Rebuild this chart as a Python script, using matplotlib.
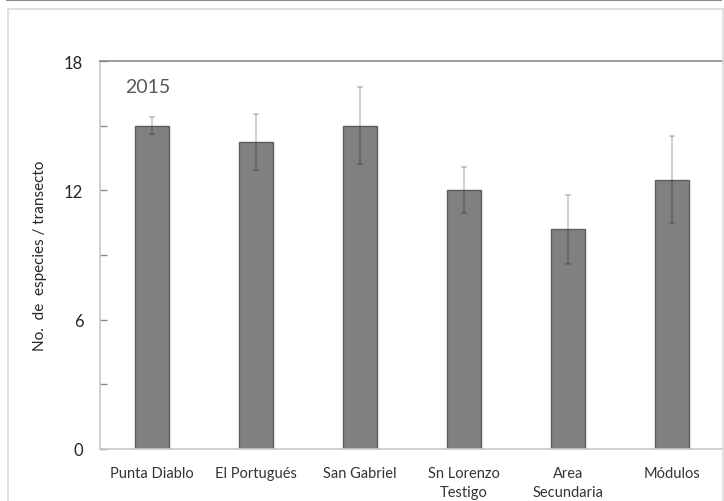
import matplotlib
matplotlib.use("Agg")
import matplotlib.pyplot as plt
from matplotlib.lines import Line2D
import numpy as np

# Species richness per transect, 2015
sites = ["Punta Diablo", "El Portugués", "San Gabriel", "Sn Lorenzo\nTestigo",
         "Area\nSecundaria", "Módulos"]
mean_species = [15.0, 14.25, 15.0, 12.0, 10.2, 12.5]
sd_species = [0.4, 1.3, 1.8, 1.07, 1.6, 2.03]
y_ticks = [0, 6, 12, 18]
y_minor = [3, 9, 15]
year_label = "2015"

plt.rcParams["font.family"] = ["Lato", "DejaVu Sans"]

W, H = 724, 502
fig = plt.figure(figsize=(W / 100, H / 100), dpi=100)
ax = fig.add_axes([100 / W, (H - 450) / H, 624 / W, 388 / H])

x = np.arange(len(sites))
ax.bar(x, mean_species, width=0.32, color="#808080", edgecolor="#5f5f5f",
       linewidth=1.0, zorder=2)
ax.errorbar(x, mean_species, yerr=sd_species, fmt="none", ecolor="black",
            alpha=0.22, elinewidth=1.2, capsize=2.0, capthick=1.2, zorder=3)

ax.set_xlim(-0.5, len(sites) - 0.5)
ax.set_ylim(0, 18)
ax.set_yticks(y_ticks)
ax.set_yticks(y_minor, minor=True)
ax.set_xticks(x)
ax.set_xticklabels(sites, fontsize=10.5, color="#333333", linespacing=1.45)
ax.tick_params(axis="x", length=0, pad=12)
ax.tick_params(axis="y", which="both", direction="in", length=5, width=1,
               color="#8c8c8c", labelsize=12, labelcolor="#262626", pad=12)

for side in ("left", "bottom"):
    ax.spines[side].set_color("#c8c8c8")
    ax.spines[side].set_linewidth(1.2)
ax.spines["top"].set_color("#8a8a8a")
ax.spines["top"].set_linewidth(1.2)
ax.spines["right"].set_visible(False)

ax.set_ylabel("No.  de  especies / transecto", fontsize=11, color="#262626")
ax.yaxis.set_label_coords(-53 / 624, 0.5)

ax.text(25 / 624, 0.935, year_label, transform=ax.transAxes, fontsize=14,
        color="#595959", ha="left", va="center")

# Frame lines around the figure
fig.add_artist(Line2D([7 / W, 721 / W], [1 - 1 / H, 1 - 1 / H],
                      transform=fig.transFigure, color="#8a8a8a", lw=1.5))
fig.add_artist(Line2D([8 / W, 8 / W, 723 / W], [0, 1 - 10 / H, 1 - 10 / H],
                      transform=fig.transFigure, color="#dadada", lw=1.2))
fig.add_artist(Line2D([723 / W, 723 / W], [0, 1 - 10 / H],
                      transform=fig.transFigure, color="#dadada", lw=1.2))

fig.savefig("out.png", dpi=100)
